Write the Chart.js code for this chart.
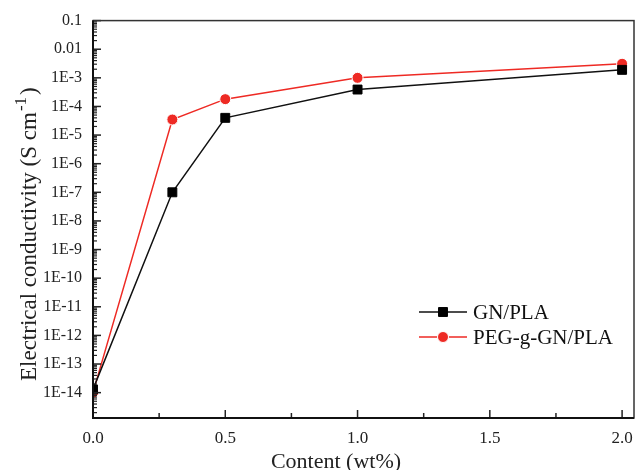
<!DOCTYPE html>
<html>
<head>
<meta charset="utf-8">
<script src="https://cdn.jsdelivr.net/npm/chart.js@4/dist/chart.umd.min.js"></script>
<style>
  html, body { margin: 0; padding: 0; background: #fff; }
  #wrap { width: 636px; height: 470px; }
</style>
</head>
<body>
<div id="wrap"><canvas id="chart" width="636" height="470"></canvas></div>
<script>
const contents = [0, 0.3, 0.5, 1.0, 2.0];
const gnPla = [1.3e-14, 1.0e-7, 4.0e-5, 3.9e-4, 1.9e-3];
const pegGnPla = [1.0e-14, 3.5e-5, 1.8e-4, 1.0e-3, 3.1e-3];
const seriesNames = ['GN/PLA', 'PEG-g-GN/PLA'];
const xTicks = [0, 0.5, 1.0, 1.5, 2.0];
const yDecades = [-14, -13, -12, -11, -10, -9, -8, -7, -6, -5, -4, -3, -2, -1];

const serif = '"Liberation Serif", "Times New Roman", serif';

function yLabel(v) {
    const e = Math.round(Math.log10(v));
    if (e >= -2) return v.toFixed(-e);
    return '1E' + e;
}

// inward ticks, frame, y title with superscript and legend
const framePlugin = {
    id: 'framePlugin',
    afterDraw(chart) {
        const ctx = chart.ctx;
        const a = chart.chartArea;
        const xs = chart.scales.x;
        const ys = chart.scales.y;
        ctx.save();
        ctx.strokeStyle = '#222';
        ctx.lineWidth = 1.5;
        // x ticks
        for (let v = 0; v <= 2.0001; v += 0.25) {
            const px = xs.getPixelForValue(v);
            const len = Math.abs(v * 2 - Math.round(v * 2)) < 1e-6 ? 8 : 5;
            ctx.beginPath();
            ctx.moveTo(px, a.bottom);
            ctx.lineTo(px, a.bottom - len);
            ctx.stroke();
        }
        // y ticks
        for (let e = -16; e <= -1; e++) {
            for (let k = 1; k <= 9; k++) {
                const v = k * Math.pow(10, e);
                if (v < ys.min || v > ys.max) continue;
                const py = ys.getPixelForValue(v);
                const len = k === 1 ? 8 : 4;
                ctx.lineWidth = k === 1 ? 1.5 : 1.2;
                ctx.beginPath();
                ctx.moveTo(a.left, py);
                ctx.lineTo(a.left + len, py);
                ctx.stroke();
            }
        }
        // frame
        ctx.lineWidth = 1.5;
        ctx.strokeStyle = '#333';
        ctx.strokeRect(a.left, a.top, a.right - a.left, a.bottom - a.top);
        ctx.lineWidth = 2;
        ctx.strokeStyle = '#111';
        ctx.beginPath();
        ctx.moveTo(a.left, a.top);
        ctx.lineTo(a.left, a.bottom);
        ctx.lineTo(a.right, a.bottom);
        ctx.stroke();

        // y title
        ctx.save();
        ctx.translate(36, 381);
        ctx.rotate(-Math.PI / 2);
        ctx.fillStyle = '#222';
        ctx.textAlign = 'left';
        ctx.textBaseline = 'alphabetic';
        ctx.font = '23px ' + serif;
        const t1 = 'Electrical conductivity (S cm';
        const w1 = ctx.measureText(t1).width;
        ctx.fillText(t1, 0, 0);
        ctx.font = '17px ' + serif;
        const t2 = '-1';
        const w2 = ctx.measureText(t2).width;
        ctx.fillText(t2, w1 + 1, -10);
        ctx.font = '23px ' + serif;
        ctx.fillText(')', w1 + w2 + 3, 0);
        ctx.restore();

        // legend
        const lx = 419, ly = [312, 337];
        chart.data.datasets.forEach((ds, i) => {
            const y = ly[i];
            ctx.strokeStyle = ds.borderColor;
            ctx.lineWidth = 1.5;
            ctx.beginPath();
            ctx.moveTo(lx, y);
            ctx.lineTo(lx + 48, y);
            ctx.stroke();
            ctx.fillStyle = ds.pointBackgroundColor;
            ctx.strokeStyle = ds.pointBorderColor;
            ctx.lineWidth = 1;
            ctx.beginPath();
            if (ds.pointStyle === 'rect') {
                const s = ds.pointRadius * Math.SQRT2;
                ctx.rect(lx + 24 - s / 2, y - s / 2, s, s);
            } else {
                ctx.arc(lx + 24, y, ds.pointRadius, 0, Math.PI * 2);
            }
            ctx.fill();
            ctx.stroke();
            ctx.fillStyle = '#111';
            ctx.font = '21px ' + serif;
            ctx.textAlign = 'left';
            ctx.textBaseline = 'middle';
            ctx.fillText(ds.label, lx + 54, y + 1);
        });
        ctx.restore();
    }
};

new Chart(document.getElementById('chart'), {
    type: 'line',
    data: {
        datasets: [
            {
                label: seriesNames[0],
                data: contents.map((c, i) => ({ x: c, y: gnPla[i] })),
                borderColor: '#111',
                borderWidth: 1.5,
                pointStyle: 'rect',
                pointRadius: 6.3,
                pointBackgroundColor: '#000',
                pointBorderColor: '#000',
                pointBorderWidth: 1,
                tension: 0
            },
            {
                label: seriesNames[1],
                data: contents.map((c, i) => ({ x: c, y: pegGnPla[i] })),
                borderColor: '#ee2a24',
                borderWidth: 1.5,
                pointStyle: 'circle',
                pointRadius: 5.5,
                pointBackgroundColor: '#ee2a24',
                pointBorderColor: '#fff',
                pointBorderWidth: 1,
                tension: 0
            }
        ]
    },
    options: {
        responsive: false,
        animation: false,
        layout: { autoPadding: false, padding: { top: 11, right: 2, left: 0, bottom: 0 } },
        plugins: {
            legend: { display: false },
            tooltip: { enabled: false }
        },
        scales: {
            x: {
                type: 'linear',
                min: 0,
                max: 2.045,
                afterBuildTicks: s => { s.ticks = xTicks.map(v => ({ value: v })); },
                afterFit: s => { s.height = 52; },
                grid: { display: false, drawTicks: true, tickLength: 10, tickColor: 'rgba(0,0,0,0)' },
                border: { display: false },
                ticks: {
                    padding: 0,
                    color: '#222',
                    font: { family: serif, size: 17 },
                    callback: v => v.toFixed(1)
                },
                title: {
                    display: true,
                    text: 'Content (wt%)' + '\u00a0'.repeat(10),
                    color: '#222',
                    font: { family: serif, size: 22 },
                    padding: { top: 0, bottom: -5 }
                }
            },
            y: {
                type: 'logarithmic',
                min: 1.3e-15,
                max: 0.1,
                afterBuildTicks: s => { s.ticks = yDecades.map(e => ({ value: Math.pow(10, e) })); },
                afterFit: s => { s.width = 93; },
                grid: { display: false, drawTicks: false },
                border: { display: false },
                ticks: {
                    padding: 11,
                    color: '#222',
                    font: { family: serif, size: 16 },
                    callback: v => yLabel(v)
                }
            }
        }
    },
    plugins: [framePlugin]
});
</script>
</body>
</html>
